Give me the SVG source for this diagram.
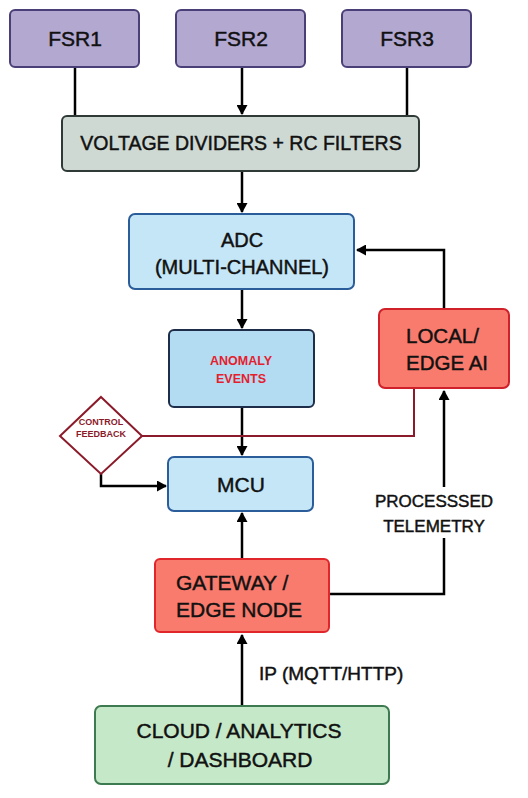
<svg xmlns="http://www.w3.org/2000/svg" width="528" height="798" viewBox="0 0 528 798">
<defs>
<marker id="ah" markerWidth="10" markerHeight="11" refX="9" refY="5.5" orient="auto" markerUnits="userSpaceOnUse">
<path d="M0,0 L10,5.5 L0,11 Z" fill="#000"/>
</marker>
<style>
.t{font-family:"Liberation Sans",Arial,sans-serif;fill:#111;stroke:#111;stroke-width:0.45;text-anchor:middle}
.b{stroke-width:2}
.c{fill:none;stroke:#000;stroke-width:2.5}
.r{fill:none;stroke:#8b1a2a;stroke-width:2}
</style>
</defs>
<rect width="528" height="798" fill="#fff"/>
<g id="connectors">
<path class="c" d="M75,67 V116"/>
<path class="c" d="M242,67 V114" marker-end="url(#ah)"/>
<path class="c" d="M407,67 V116"/>
<path class="c" d="M242,171 V212" marker-end="url(#ah)"/>
<path class="c" d="M242,289 V328" marker-end="url(#ah)"/>
<path class="c" d="M242,407 V455" marker-end="url(#ah)"/>
<path class="c" d="M444,309 V250 H357" marker-end="url(#ah)"/>
<path class="r" d="M142,436 H414 V388"/>
<path class="c" d="M101,474 V486 H166" marker-end="url(#ah)"/>
<path class="c" d="M242,559 V513" marker-end="url(#ah)"/>
<path class="c" d="M329,594 H444 V538"/>
<path class="c" d="M444,487 V391" marker-end="url(#ah)"/>
<path class="c" d="M242,706 V635" marker-end="url(#ah)"/>
<text class="t" x="434" y="507" font-size="17">PROCESSSED</text>
<text class="t" x="434" y="532" font-size="17">TELEMETRY</text>
<text class="t" x="259" y="680" font-size="19" style="text-anchor:start">IP (MQTT/HTTP)</text>
</g>
<g id="fsr1">
<rect x="10" y="10" width="129" height="57" rx="5" fill="#b3a8d0" stroke="#4b3f78" class="b"/>
<text class="t" x="75" y="46" font-size="21">FSR1</text>
</g>
<g id="fsr2">
<rect x="176" y="10" width="129" height="57" rx="5" fill="#b3a8d0" stroke="#4b3f78" class="b"/>
<text class="t" x="241" y="46" font-size="21">FSR2</text>
</g>
<g id="fsr3">
<rect x="342" y="10" width="129" height="57" rx="5" fill="#b3a8d0" stroke="#4b3f78" class="b"/>
<text class="t" x="407" y="46" font-size="21">FSR3</text>
</g>
<g id="dividers">
<rect x="62" y="116" width="357" height="55" rx="5" fill="#cfd9d4" stroke="#2f3a36" class="b"/>
<text class="t" x="241" y="150" font-size="19.5">VOLTAGE DIVIDERS + RC FILTERS</text>
</g>
<g id="adc">
<rect x="129" y="214" width="225" height="75" rx="6" fill="#c4e6f7" stroke="#2a5d9a" class="b"/>
<text class="t" x="242" y="247" font-size="20">ADC</text>
<text class="t" x="242" y="274" font-size="20">(MULTI-CHANNEL)</text>
</g>
<g id="anomaly">
<rect x="169" y="330" width="145" height="77" rx="5" fill="#b3dbf1" stroke="#1e2d4a" class="b"/>
<text class="t" x="241" y="365" font-size="12.5" font-weight="bold" style="fill:#e5202e;stroke:none">ANOMALY</text>
<text class="t" x="241" y="383" font-size="12.5" font-weight="bold" style="fill:#e5202e;stroke:none">EVENTS</text>
</g>
<g id="control-feedback">
<path d="M101,397 L142,436 L101,474 L60,436 Z" fill="#fff" stroke="#8b1a2a" stroke-width="2"/>
<text class="t" x="101" y="425" font-size="9" font-weight="bold" style="fill:#8b1a2a;stroke:none">CONTROL</text>
<text class="t" x="101" y="437" font-size="9" font-weight="bold" style="fill:#8b1a2a;stroke:none">FEEDBACK</text>
</g>
<g id="mcu">
<rect x="168" y="457" width="145" height="54" rx="6" fill="#c4e6f7" stroke="#2a5d9a" class="b"/>
<text class="t" x="241" y="492" font-size="21">MCU</text>
</g>
<g id="local-ai">
<rect x="379" y="309" width="130" height="79" rx="6" fill="#f87b6d" stroke="#d0202a" class="b"/>
<text class="t" x="406" y="343" font-size="20.5" style="text-anchor:start">LOCAL/</text>
<text class="t" x="406" y="370" font-size="20.5" style="text-anchor:start">EDGE AI</text>
</g>
<g id="gateway">
<rect x="155" y="559" width="174" height="73" rx="5" fill="#f87b6d" stroke="#e0262a" class="b"/>
<text class="t" x="176" y="590" font-size="21" style="text-anchor:start">GATEWAY /</text>
<text class="t" x="176" y="617" font-size="21" style="text-anchor:start">EDGE NODE</text>
</g>
<g id="cloud">
<rect x="95" y="706" width="294" height="78" rx="6" fill="#c5e8c8" stroke="#3d7a4f" class="b"/>
<text class="t" x="239" y="738" font-size="21">CLOUD / ANALYTICS</text>
<text class="t" x="240" y="767" font-size="21">/ DASHBOARD</text>
</g>
</svg>
